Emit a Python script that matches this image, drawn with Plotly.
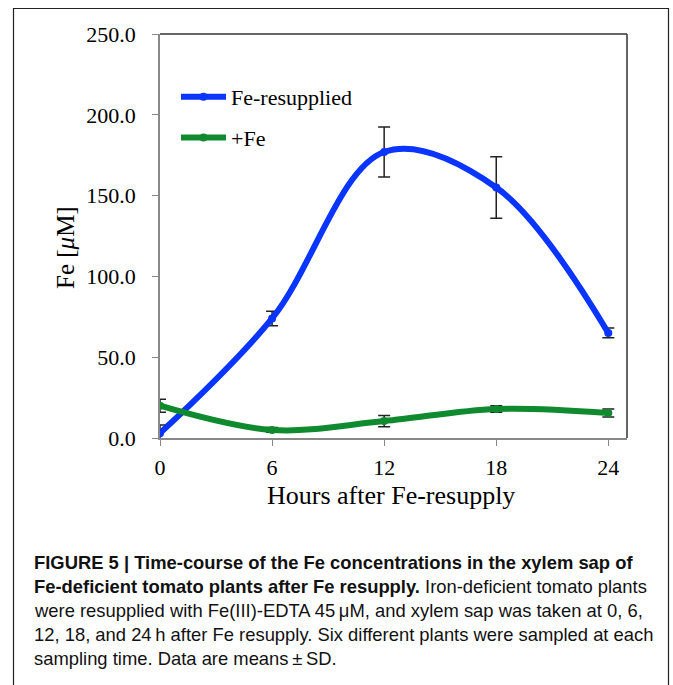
import plotly.graph_objects as go

# ---- data ----
hours = [0, 6, 12, 18, 24]
fe_resupplied = [3, 74, 177, 155, 65]
fe_resupplied_sd = [5, 4.5, 15.5, 19, 3]
plus_fe = [20, 5, 10.5, 18, 15.5]
plus_fe_sd = [4, 1.5, 3.5, 2, 2.5]
series_names = ["Fe-resupplied", "+Fe"]
y_ticks = [0, 50, 100, 150, 200, 250]
y_tick_labels = ["0.0", "50.0", "100.0", "150.0", "200.0", "250.0"]
x_ticks = [0, 6, 12, 18, 24]

caption_lines = [
    "<b>FIGURE 5 | Time-course of the Fe concentrations in the xylem sap of</b>",
    "<b>Fe-deficient tomato plants after Fe resupply.</b> Iron-deficient tomato plants",
    "were resupplied with Fe(III)-EDTA 45\u2009\u03bcM, and xylem sap was taken at 0, 6,",
    "12, 18, and 24\u2009h after Fe resupply. Six different plants were sampled at each",
    "sampling time. Data are means\u2009\u00b1\u2009SD.",
]

W, H = 673, 685
BLUE = "#0A34FF"
GREEN = "#108A2E"
SERIF = "Liberation Serif, Times New Roman, serif"
CAPF = "Liberation Sans, Arial, sans-serif"

def px_x(p):
    return p / W

def px_y(p):
    return 1 - p / H

fig = go.Figure()
fig.add_trace(go.Scatter(
    x=hours, y=fe_resupplied, name=series_names[0], legendgroup="a",
    mode="lines+markers", line=dict(color=BLUE, width=6, shape="spline", smoothing=1),
    marker=dict(color=BLUE, size=8),
    error_y=dict(type="data", array=fe_resupplied_sd, color="#222", thickness=1.5, width=6),
))
fig.add_trace(go.Scatter(
    x=hours, y=plus_fe, name=series_names[1], legendgroup="b",
    mode="lines+markers", line=dict(color=GREEN, width=6, shape="spline", smoothing=1),
    marker=dict(color=GREEN, size=8),
    error_y=dict(type="data", array=plus_fe_sd, color="#222", thickness=1.5, width=6),
))

x0, x1, yt, yb = 160, 627, 34, 438

fig.update_layout(
    width=W, height=H, margin=dict(l=0, r=0, t=0, b=0, autoexpand=False),
    paper_bgcolor="white", plot_bgcolor="white",
    showlegend=True,
    legend=dict(x=px_x(176), y=px_y(76), xanchor="left", yanchor="top",
                font=dict(family=SERIF, size=22, color="black"),
                bgcolor="rgba(0,0,0,0)", tracegroupgap=9, itemwidth=45),
    xaxis=dict(domain=[px_x(x0), px_x(x1)], range=[0, 25], tickvals=x_ticks, automargin=False,
               ticks="outside", ticklen=6, tickcolor="#888", showgrid=False, zeroline=False,
               showline=True, linecolor="#888", linewidth=1.5,
               tickfont=dict(family=SERIF, size=22, color="black"), ticklabelstandoff=3),
    yaxis=dict(domain=[px_y(yb), px_y(yt)], range=[0, 250], tickvals=y_ticks, ticktext=y_tick_labels,
               automargin=False,
               ticks="outside", ticklen=6, tickcolor="#888", showgrid=False, zeroline=False,
               showline=True, linecolor="#888", linewidth=1.5,
               tickfont=dict(family=SERIF, size=22, color="black"), ticklabelstandoff=12),
    shapes=[
        dict(type="line", xref="x domain", yref="y domain", x0=0, x1=1, y0=1, y1=1,
             line=dict(color="#333", width=1.5)),
        dict(type="line", xref="x domain", yref="y domain", x0=1, x1=1, y0=0, y1=1,
             line=dict(color="#333", width=1.5)),
        dict(type="rect", xref="paper", yref="paper", x0=px_x(13.5), x1=px_x(668.5),
             y0=-0.02, y1=px_y(8.5), line=dict(color="#222", width=1.2)),
    ],
)

annotations = [
    dict(text="Fe [<i>\u03bc</i>M]", x=px_x(65), y=px_y(248), xref="paper", yref="paper",
         xanchor="center", yanchor="middle",
         textangle=-90, showarrow=False, font=dict(family=SERIF, size=25, color="black")),
    dict(text="Hours after Fe-resupply", x=px_x(391), y=px_y(495), xref="paper", yref="paper",
         xanchor="center", yanchor="middle",
         showarrow=False, font=dict(family=SERIF, size=26, color="black")),
]
line_y = [562, 586, 610, 634, 658]
for t, yy in zip(caption_lines, line_y):
    annotations.append(dict(text=t, x=px_x(32), y=px_y(yy), xref="paper", yref="paper",
                            xanchor="left", yanchor="middle", showarrow=False, align="left",
                            font=dict(family=CAPF, size=18.4, color="#111")))
fig.update_layout(annotations=annotations)

fig.write_html("out.html", post_script="document.body.style.margin='0';",
               config={"displayModeBar": False})
